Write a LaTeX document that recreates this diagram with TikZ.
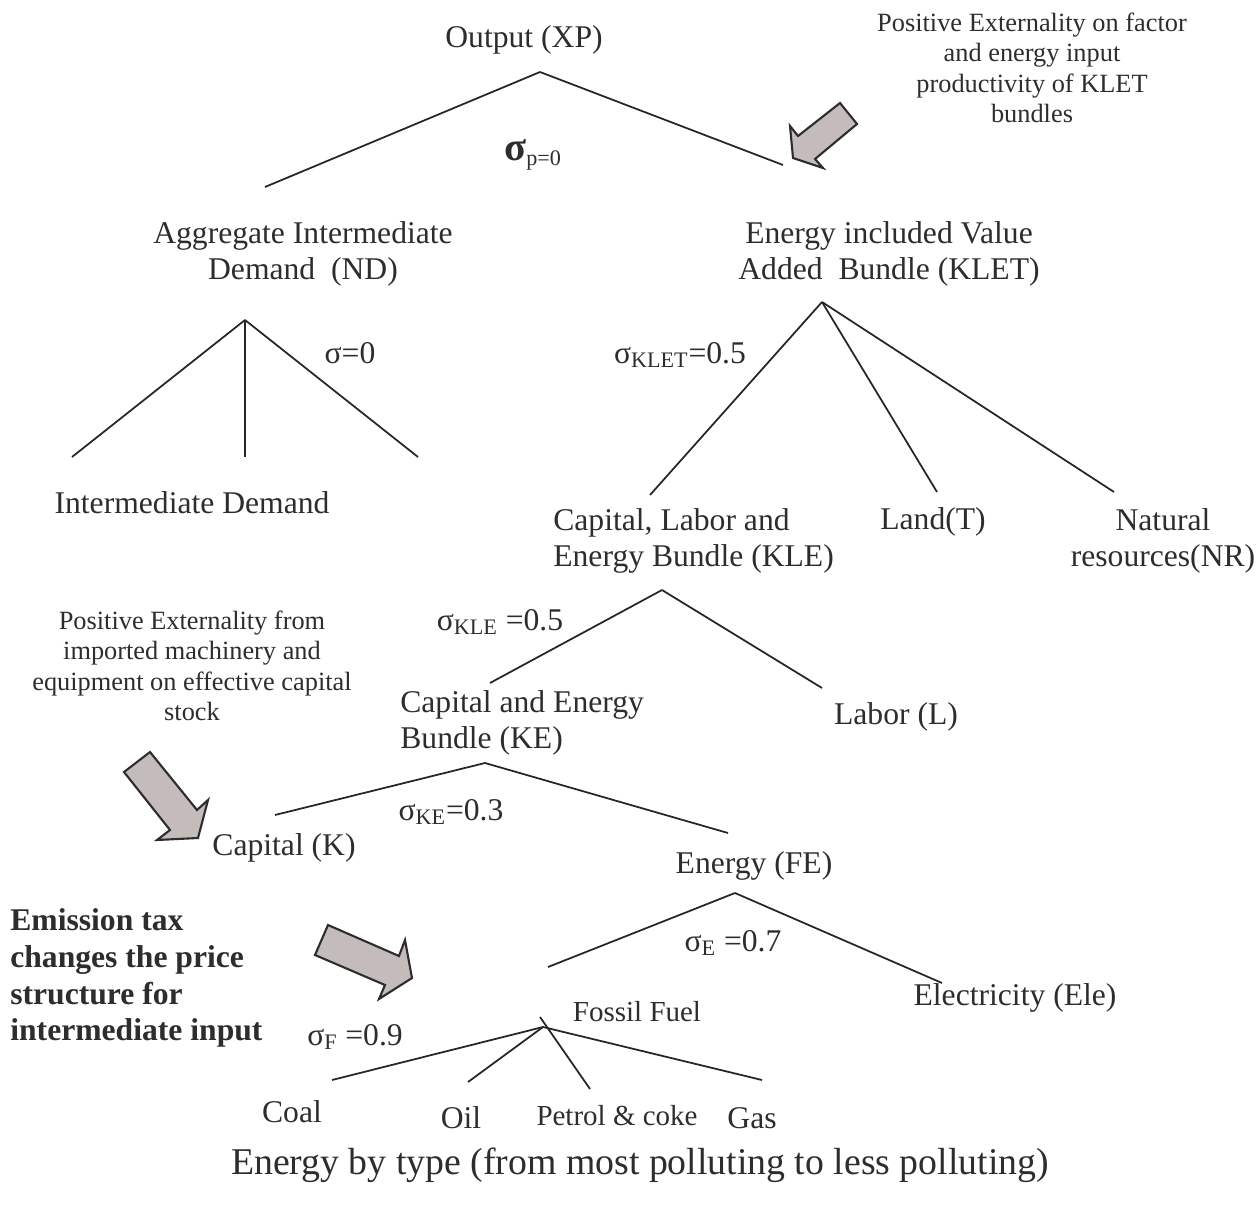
\documentclass[tikz,border=0pt]{standalone}
\usepackage{fontspec}
\setmainfont{Liberation Serif}
\usetikzlibrary{positioning}
\definecolor{inkgray}{RGB}{45,45,45}
\definecolor{arrowfill}{RGB}{196,187,187}

\begin{document}
\begin{tikzpicture}[x=0.02cm,y=-0.02cm,
	big/.style={font=\fontsize{18}{20.5}\selectfont, text=inkgray, align=center, inner sep=0pt},
	mid/.style={font=\fontsize{16.5}{19}\selectfont, text=inkgray, inner sep=0pt},
	small/.style={font=\fontsize{15}{17.3}\selectfont, text=inkgray, align=center, inner sep=0pt},
	branch/.style={draw=black!85, line width=1pt},
	block/.style={fill=arrowfill, draw=inkgray, line width=1.2pt, line join=miter}]
	\useasboundingbox (0,0) rectangle (1256,1209);
	% Output %
	\node[big] (xp) at (524,40) {Output (XP)};
	\coordinate (xptop) at (540,72);
	\coordinate (ndleg) at (265,187);
	\coordinate (kletleg) at (783,165);
	\draw[branch] (xptop) -- (ndleg);
	\draw[branch] (xptop) -- (kletleg);
	\node[big] (sigp) at (533,155) {{\fontsize{23}{23}\selectfont\bfseries σ}\textsubscript{p=0}};
	% Top Externality %
	\node[small] (extklet) at (1032,68) {Positive Externality on factor\\and energy input\\productivity of KLET\\bundles};
	\filldraw[block] (840,103) -- (857,124) -- (815,159) -- (823,168) -- (793,158) -- (790,126) -- (798,136) -- cycle;
	% Intermediate Demand %
	\node[big] (nd) at (303,254) {Aggregate Intermediate\\Demand~ (ND)};
	\coordinate (ndtop) at (245,320);
	\coordinate (ndl) at (72,457);
	\coordinate (ndm) at (245,457);
	\coordinate (ndr) at (418,457);
	\foreach \leg in {ndl, ndm, ndr}
		{\draw[branch] (ndtop) -- (\leg);}
	\node[big] (signd) at (350,353) {σ=0};
	\node[big] (id) at (192,503) {Intermediate Demand};
	% KLET %
	\node[big] (klet) at (889,254) {Energy included Value\\Added~ Bundle (KLET)};
	\coordinate (klettop) at (822,302);
	\coordinate (kleleg) at (650,495);
	\coordinate (tleg) at (937,492);
	\coordinate (nrleg) at (1114,492);
	\foreach \leg in {kleleg, tleg, nrleg}
		{\draw[branch] (klettop) -- (\leg);}
	\node[big] (sigklet) at (680,355) {σ\textsubscript{KLET}=0.5};
	\node[big, align=left, anchor=west] (kle) at (553,541) {Capital, Labor and\\Energy Bundle (KLE)};
	\node[big] (land) at (933,522) {Land(T)};
	\node[big] (nr) at (1163,541) {Natural\\resources(NR)};
	% KLE %
	\coordinate (kletop) at (662,590);
	\coordinate (keleg) at (490,683);
	\coordinate (lleg) at (822,688);
	\draw[branch] (kletop) -- (keleg);
	\draw[branch] (kletop) -- (lleg);
	\node[big] (sigkle) at (500,622) {σ\textsubscript{KLE} =0.5};
	\node[big, align=left, anchor=west] (ke) at (400,723) {Capital and Energy\\Bundle (KE)};
	\node[big] (labor) at (896,717) {Labor (L)};
	% Capital Externality %
	\node[small] (extk) at (192,666) {Positive Externality from\\imported machinery and\\equipment on effective capital\\stock};
	\filldraw[block] (124,772) -- (150,752) -- (197,810) -- (208,800) -- (198,838) -- (157,840) -- (170,830) -- cycle;
	% KE %
	\coordinate (ketop) at (485,763);
	\coordinate (kleg) at (275,815);
	\coordinate (feleg) at (728,833);
	\draw[branch] (ketop) -- (kleg);
	\draw[branch] (ketop) -- (feleg);
	\node[big] (sigke) at (451,812) {σ\textsubscript{KE}=0.3};
	\node[big] (capital) at (284,848) {Capital (K)};
	\node[big] (energy) at (754,866) {Energy (FE)};
	% FE %
	\coordinate (fetop) at (735,893);
	\coordinate (ffleg) at (548,967);
	\coordinate (eleleg) at (942,983);
	\draw[branch] (fetop) -- (ffleg);
	\draw[branch] (fetop) -- (eleleg);
	\node[big] (sige) at (733,943) {σ\textsubscript{E} =0.7};
	\node[big] (ele) at (1015,998) {Electricity (Ele)};
	\node[mid] (ff) at (637,1012) {Fossil Fuel};
	% Emission Tax %
	\node[big, font=\bfseries\fontsize{18}{21}\selectfont, align=left, anchor=west] (tax) at (10,978) {Emission tax\\changes the price\\structure for\\intermediate input};
	\filldraw[block] (328,925) -- (399,956) -- (405,940) -- (412,978) -- (379,999) -- (385,985) -- (315,955) -- cycle;
	% Fossil Fuel %
	\coordinate (fftop) at (543,1027);
	\coordinate (ffstub) at (540,1017);
	\coordinate (coalleg) at (332,1080);
	\coordinate (oilleg) at (468,1082);
	\coordinate (petleg) at (590,1089);
	\coordinate (gasleg) at (762,1080);
	\foreach \leg in {coalleg, oilleg, gasleg}
		{\draw[branch] (fftop) -- (\leg);}
	\draw[branch] (ffstub) -- (petleg);
	\node[big] (sigf) at (355,1037) {σ\textsubscript{F} =0.9};
	\node[big] (coal) at (292,1112) {Coal};
	\node[big] (oil) at (461,1118) {Oil};
	\node[mid] (pet) at (617,1116) {Petrol \& coke};
	\node[big] (gas) at (752,1118) {Gas};
	% Caption %
	\node[big, font=\fontsize{21.5}{24}\selectfont] (caption) at (640,1165) {Energy by type (from most polluting to less polluting)};
\end{tikzpicture}
\end{document}
